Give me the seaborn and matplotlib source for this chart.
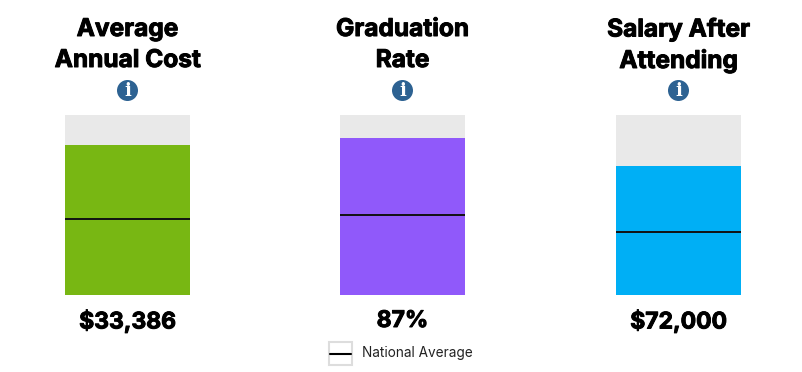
import matplotlib
matplotlib.use("Agg")
import matplotlib.pyplot as plt
import matplotlib.patheffects as pe
import seaborn as sns
import pandas as pd
from matplotlib.patches import Ellipse, Rectangle
from matplotlib.lines import Line2D

titles = ["Average\nAnnual Cost", "Graduation\nRate", "Salary After\nAttending"]
labels = ["$33,386", "87%", "$72,000"]
fill_pct = [83.3, 87.2, 71.7]
national_pct = [42.2, 44.4, 35.0]
colors = ["#78b713", "#9059fa", "#00aff5"]
legend_label = "National Average"

sns.set_theme(style="white")
plt.rcParams["font.family"] = ["Inter", "DejaVu Sans"]

W, H = 802, 372
fig = plt.figure(figsize=(W / 100, H / 100), dpi=100, facecolor="white")

def fx(x):
    return x / W

def fy(y):
    return 1 - y / H

heavy = [pe.withStroke(linewidth=0.7, foreground="black")]
lefts = [65, 340, 616]
for left, title, label, val, nat, col in zip(lefts, titles, labels, fill_pct, national_pct, colors):
    ax = fig.add_axes([fx(left), fy(295), 125 / W, 180 / H])
    ax.set_facecolor("#e9e9e9")
    df = pd.DataFrame({"m": [title], "v": [val]})
    sns.barplot(data=df, x="m", y="v", color=col, saturation=1, width=1, linewidth=0, edgecolor="none", ax=ax)
    ax.axhline(nat, color="#111111", lw=1.4)
    ax.set_xlim(-0.5, 0.5)
    ax.set_ylim(0, 100)
    ax.set_xticks([])
    ax.set_yticks([])
    ax.set_xlabel("")
    ax.set_ylabel("")
    sns.despine(ax=ax, left=True, bottom=True)
    cx = left + 62.5
    first, second = title.split("\n")
    fig.text(fx(cx), fy(29.5), first, ha="center", va="center", fontsize=17.6, fontweight="bold",
             color="black", path_effects=heavy)
    fig.text(fx(cx), fy(60.5), second, ha="center", va="center", fontsize=17.6, fontweight="bold",
             color="black", path_effects=heavy)
    fig.add_artist(Ellipse((fx(cx), fy(90.5)), 21 / W, 21 / H, transform=fig.transFigure, color="#2d6292", lw=0))
    fig.text(fx(cx), fy(90.5), "i", ha="center", va="center", fontsize=13, fontweight="bold",
             family="DejaVu Serif", color="white")
    fig.text(fx(cx), fy(321), label, ha="center", va="center", fontsize=16.5, fontweight="bold",
             color="black", path_effects=heavy)

fig.add_artist(Rectangle((fx(329), fy(365)), 23 / W, 23 / H, transform=fig.transFigure,
                         facecolor="white", edgecolor="#dddddd", lw=1.5))
fig.add_artist(Line2D([fx(330), fx(351)], [fy(353.5), fy(353.5)], transform=fig.transFigure, color="black", lw=1.5))
fig.text(fx(362), fy(353.5), legend_label, ha="left", va="center", fontsize=9.8, color="#222222")

fig.savefig("out.png", dpi=100, facecolor="white")
